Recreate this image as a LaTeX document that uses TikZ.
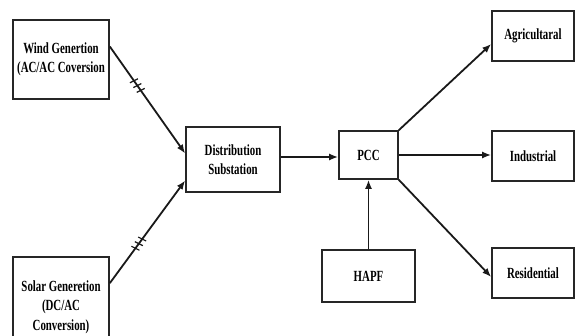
\documentclass[tikz,border=0pt]{standalone}
\usepackage{fontspec}
\newfontfamily\boxfont{Liberation Serif}[FakeStretch=0.7]
\usetikzlibrary{arrows.meta}

\tikzset{
	blk/.style={draw=black!85, line width=1.6pt, fill=white, align=center, inner sep=0pt,
		font=\boxfont\bfseries\fontsize{15.5}{19.5}\selectfont},
	arr/.style={line width=1.8pt, draw=black!90, -{Latex[length=9pt,width=7pt]}},
	tick/.style={line width=1.2pt, draw=black!90}
}

\begin{document}
\begin{tikzpicture}[x=1pt,y=1pt]
	\useasboundingbox (0,0) rectangle (575,335);

	\node[blk, minimum width=96, minimum height=79] (wind) at (61,275.5) {Wind Genertion\\(AC/AC Coversion};
	\node[blk, minimum width=96, minimum height=100] (solar) at (61,28) {Solar Generetion\\(DC/AC\\Conversion)};
	\node[blk, minimum width=94, minimum height=65] (dist) at (233,175.5) {Distribution\\Substation};
	\node[blk, minimum width=59, minimum height=48] (pcc) at (368.5,180) {PCC};
	\node[blk, minimum width=93, minimum height=52] (hapf) at (368.5,59) {HAPF};
	\node[blk, minimum width=82, minimum height=50] (agri) at (533,299) {Agricultaral};
	\node[blk, minimum width=82, minimum height=50] (ind) at (533,179) {Industrial};
	\node[blk, minimum width=82, minimum height=50] (res) at (533,62) {Residential};

	\draw[arr] ([yshift=13]wind.east) -- coordinate[pos=0.32] (wt1) coordinate[pos=0.365] (wt2) coordinate[pos=0.41] (wt3) ([yshift=6]dist.west);
	\draw[arr] ([yshift=-27]solar.north east) -- coordinate[pos=0.34] (st1) coordinate[pos=0.385] (st2) coordinate[pos=0.43] (st3) ([yshift=-21]dist.west);
	\foreach \c in {wt1,wt2,wt3}
		\draw[tick] ([shift={(-4,-2)}]\c) -- ([shift={(4,2)}]\c);
	\foreach \c in {st1,st2,st3}
		\draw[tick] ([shift={(-4,2)}]\c) -- ([shift={(4,-2)}]\c);

	\draw[arr] ([yshift=2.5]dist.east) -- ([yshift=-2]pcc.west);
	\draw[arr] (pcc.north east) -- ([yshift=-8]agri.west);
	\draw[arr] (pcc.east) -- (pcc.east -| ind.west);
	\draw[arr] (pcc.south east) -- ([yshift=-4]res.west);
	\draw[arr] (hapf.north) -- (pcc.south);
\end{tikzpicture}
\end{document}
